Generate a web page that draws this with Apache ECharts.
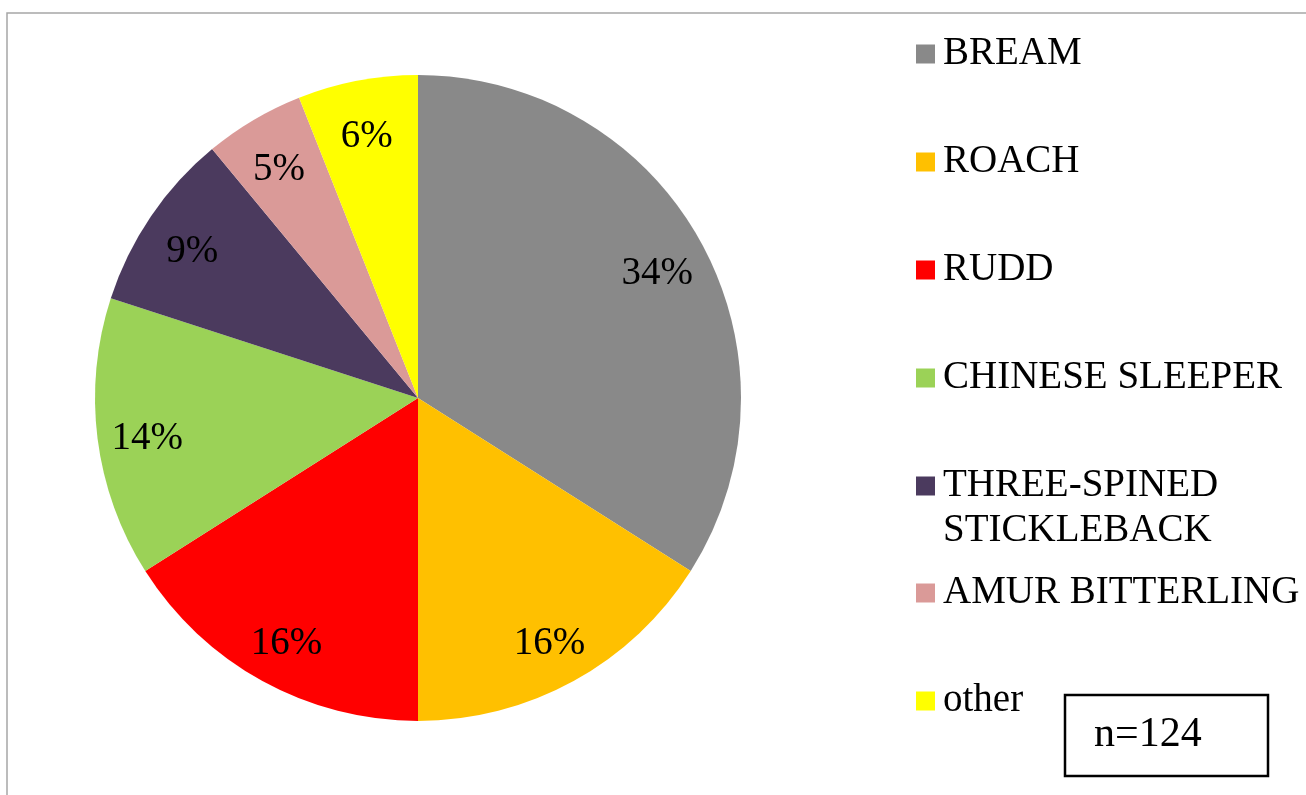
<!DOCTYPE html>
<html>
<head>
<meta charset="utf-8">
<script src="https://cdn.jsdelivr.net/npm/echarts@6/dist/echarts.min.js"></script>
<style>
html,body{margin:0;padding:0;background:#fff;}
#chart{width:1306px;height:795px;}
</style>
</head>
<body>
<div id="chart"></div>
<script>
const categories = ['BREAM', 'ROACH', 'RUDD', 'CHINESE SLEEPER', 'THREE-SPINED STICKLEBACK', 'AMUR BITTERLING', 'other'];
const percentValues = [34, 16, 16, 14, 9, 5, 6];
const sliceColors = ['#898989', '#FFC000', '#FF0000', '#9BD257', '#4B3A5E', '#DA9A98', '#FFFF00'];
const sampleLabel = 'n=124';

const FONT = '"Liberation Serif", "Times New Roman", serif';
const chart = echarts.init(document.getElementById('chart'), null, {renderer: 'canvas'});

const pieData = categories.map((c, i) => ({name: c, value: percentValues[i], itemStyle: {color: sliceColors[i]}}));
const labelData = categories.map((c, i) => ({name: c, value: percentValues[i]}));

// legend marker centre y positions
const legendCenters = [54, 162, 270, 378, 486, 593, 701];
const legends = categories.map((c, i) => {
  const twoLine = c === 'THREE-SPINED STICKLEBACK';
  return {
    data: [c],
    left: 916,
    top: twoLine ? legendCenters[i] - 67.5 : legendCenters[i] - 22,
    padding: 0,
    itemWidth: 19,
    itemHeight: 19,
    icon: 'rect',
    selectedMode: false,
    formatter: twoLine ? '\nTHREE-SPINED\nSTICKLEBACK' : '{name}',
    textStyle: {
      fontFamily: FONT, fontSize: 39, color: '#000', lineHeight: twoLine ? 45 : 44,
      padding: [0, 0, 0, 3]
    }
  };
});

chart.setOption({
  animation: false,
  backgroundColor: '#fff',
  legend: legends,
  graphic: [
    {type: 'rect', shape: {x: 7, y: 13, width: 1320, height: 820}, style: {fill: 'none', stroke: '#A6A6A6', lineWidth: 1.5}, silent: true},
    {type: 'rect', shape: {x: 1065, y: 695, width: 203, height: 81}, style: {fill: '#fff', stroke: '#000', lineWidth: 2.5}, silent: true},
    {type: 'text', x: 1094, y: 735, style: {text: sampleLabel, font: '42px ' + FONT, fill: '#000', verticalAlign: 'middle', align: 'left'}, silent: true}
  ],
  series: [
    {
      type: 'pie',
      center: [418, 398],
      radius: [0, 323],
      startAngle: 90,
      clockwise: true,
      silent: true,
      label: {show: false},
      labelLine: {show: false},
      data: pieData
    },
    {
      type: 'pie',
      center: [418, 398],
      radius: [217, 323],
      startAngle: 90,
      clockwise: true,
      silent: true,
      legendHoverLink: false,
      itemStyle: {color: 'rgba(0,0,0,0)'},
      label: {
        show: true,
        position: 'inside',
        formatter: p => '{s| }\n{v|' + p.value + '%}',
        rich: {
          s: {fontSize: 2, lineHeight: 14},
          v: {fontFamily: FONT, fontSize: 39, lineHeight: 44, color: '#000'}
        },
        fontFamily: FONT,
        fontSize: 39,
        color: '#000'
      },
      labelLine: {show: false},
      data: labelData
    }
  ]
});
</script>
</body>
</html>
